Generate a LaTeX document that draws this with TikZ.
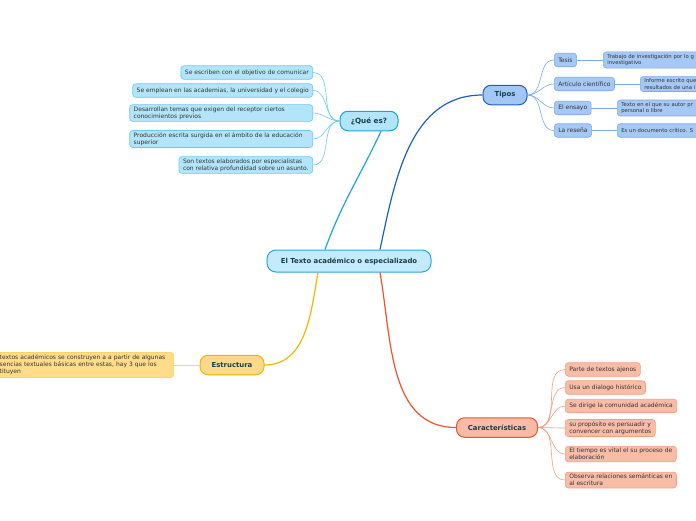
\documentclass[tikz,border=0pt]{standalone}
\usepackage{fontspec}
\setmainfont{DejaVu Sans}
\usetikzlibrary{positioning, calc}

\definecolor{leaftext}{HTML}{333333}
\definecolor{maintext}{HTML}{173F4A}
\definecolor{centralfill}{HTML}{C4EBFC}
\definecolor{centraldraw}{HTML}{2FA3DE}
\definecolor{quefill}{HTML}{B3E5FA}
\definecolor{quedraw}{HTML}{1AA3DF}
\definecolor{queleaf}{HTML}{B3E5FA}
\definecolor{queline}{HTML}{6CC8F0}
\definecolor{tiposfill}{HTML}{A3C7F5}
\definecolor{tiposdraw}{HTML}{1A5FC8}
\definecolor{tiposleaf}{HTML}{A6C8F5}
\definecolor{tiposline}{HTML}{7AA9EC}
\definecolor{estrfill}{HTML}{FFD98A}
\definecolor{estrdraw}{HTML}{F4B400}
\definecolor{estrleaf}{HTML}{FFDC88}
\definecolor{estrline}{HTML}{FCD26E}
\definecolor{carfill}{HTML}{F9BBA5}
\definecolor{cardraw}{HTML}{F0532B}
\definecolor{carleaf}{HTML}{F9BDA7}
\definecolor{carline}{HTML}{F49C80}

\begin{document}
\begin{tikzpicture}[x=1pt, y=-1pt,
    leaf/.style={draw, rounded corners=3pt, line width=0.6pt, text=leaftext,
        font=\fontsize{6}{7}\selectfont, inner xsep=4pt, inner ysep=2pt,
        minimum height=13.5pt, align=left},
    subleaf/.style={leaf, fill=tiposleaf, draw=tiposline, anchor=west, text width=140pt,
        font=\fontsize{5.3}{6.8}\selectfont},
    topic/.style={draw, rounded corners=8pt, line width=1pt, text=maintext,
        font=\fontsize{6.9}{8}\selectfont\bfseries, minimum height=19.5pt},
    branch/.style={line width=1.2pt},
    twig/.style={line width=0.6pt}]
\useasboundingbox (0,0) rectangle (696,520);
\clip (0,0) rectangle (696,520);

% central topic
\node[topic, fill=centralfill, draw=centraldraw, minimum width=164pt, minimum height=22pt,
    rounded corners=9pt] (texto) at (349,261) {El Texto académico o especializado};

% main topics
\node[topic, fill=quefill, draw=quedraw, minimum width=58pt, font=\fontsize{7.2}{8}\selectfont\bfseries] (que) at (369,121) {¿Qué es?};
\node[topic, fill=tiposfill, draw=tiposdraw, minimum width=44pt] (tipos) at (505,95) {Tipos};
\node[topic, fill=estrfill, draw=estrdraw, minimum width=64pt] (estr) at (232,365) {Estructura};
\node[topic, fill=carfill, draw=cardraw, minimum width=81pt] (car) at (497,427.5) {Características};

\draw[branch, quedraw] ([xshift=-24pt]texto.north) to[out=70, in=-115] ([xshift=12pt]que.south);
\draw[branch, tiposdraw] ([xshift=31pt]texto.north) to[out=78, in=180] (tipos.west);
\draw[branch, estrdraw] ([xshift=-31pt]texto.south) to[out=-100, in=0] (estr.east);
\draw[branch, cardraw] ([xshift=31pt]texto.south) to[out=-80, in=180] (car.west);

% ¿Qué es?
\node[leaf, fill=queleaf, draw=queline, anchor=east] (que1) at (313,72.5) {Se escriben con el objetivo de comunicar};
\node[leaf, fill=queleaf, draw=queline, anchor=east] (que2) at (313,90.5) {Se emplean en las academias, la universidad y el colegio};
\node[leaf, fill=queleaf, draw=queline, anchor=east, text width=175pt] (que3) at (313,113) {Desarrollan temas que exigen del receptor ciertos\\conocimientos previos};
\node[leaf, fill=queleaf, draw=queline, anchor=east, text width=175pt] (que4) at (313,139) {Producción escrita surgida en el ámbito de la educación\\superior};
\node[leaf, fill=queleaf, draw=queline, anchor=east] (que5) at (313,165) {Son textos elaborados por especialistas\\con relativa profundidad sobre un asunto.};
\foreach \n in {1,...,5}
    \draw[twig, queline] (que.west) to[out=180, in=0] (que\n.east);

% Tipos
\node[leaf, fill=tiposleaf, draw=tiposline, anchor=west] (tesis) at (554,60) {Tesis};
\node[leaf, fill=tiposleaf, draw=tiposline, anchor=west] (articulo) at (554,84) {Artículo científico};
\node[leaf, fill=tiposleaf, draw=tiposline, anchor=west] (ensayo) at (554,108) {El ensayo};
\node[leaf, fill=tiposleaf, draw=tiposline, anchor=west] (resena) at (554,130.5) {La reseña};
\foreach \n in {tesis, articulo, ensayo, resena}
    \draw[twig, tiposline] (tipos.east) to[out=0, in=180] (\n.west);

\node[subleaf] (tesisdef) at (603,60) {Trabajo de investigación por lo g\\investigativo};
\node[subleaf] (articulodef) at (640,84) {Informe escrito que\\resultados de una i};
\node[subleaf] (ensayodef) at (617,108) {Texto en el que su autor pr\\personal o libre};
\node[subleaf] (resenadef) at (617,130.5) {Es un documento crítico. S};
\draw[twig, tiposline] (tesis.east) -- (tesisdef.west);
\draw[twig, tiposline] (articulo.east) -- (articulodef.west);
\draw[twig, tiposline] (ensayo.east) -- (ensayodef.west);
\draw[twig, tiposline] (resena.east) -- (resenadef.west);

% Estructura
\node[leaf, fill=estrleaf, draw=estrline, anchor=east, text width=170pt, inner ysep=2.5pt] (estr1) at (174,365) {textos académicos se construyen a a partir de algunas\\sencias textuales básicas entre estas, hay 3 que los\\tituyen};
\draw[twig, estrline] (estr.west) -- (estr1.east);

% Características
\node[leaf, fill=carleaf, draw=carline, anchor=west] (car1) at (565,369.5) {Parte de textos ajenos};
\node[leaf, fill=carleaf, draw=carline, anchor=west] (car2) at (565,387.5) {Usa un dialogo histórico};
\node[leaf, fill=carleaf, draw=carline, anchor=west] (car3) at (565,406) {Se dirige la comunidad académica};
\node[leaf, fill=carleaf, draw=carline, anchor=west] (car4) at (565,428) {su propósito es persuadir y\\convencer con argumentos};
\node[leaf, fill=carleaf, draw=carline, anchor=west] (car5) at (565,454) {El tiempo es vital el su proceso de\\elaboración};
\node[leaf, fill=carleaf, draw=carline, anchor=west] (car6) at (565,480) {Observa relaciones semánticas en\\al escritura};
\foreach \n in {1,...,6}
    \draw[twig, carline] (car.east) to[out=0, in=180] (car\n.west);
\end{tikzpicture}
\end{document}
